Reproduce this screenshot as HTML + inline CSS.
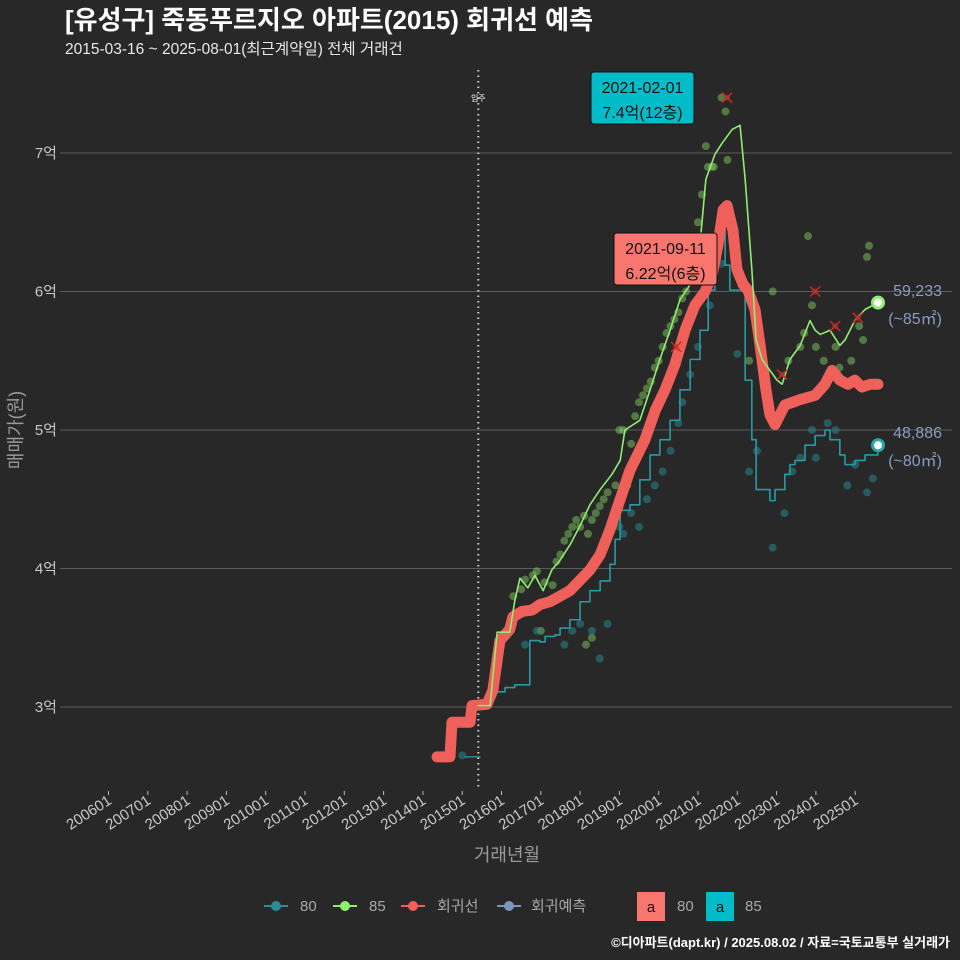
<!DOCTYPE html>
<html><head><meta charset="utf-8"><style>
body{margin:0;background:#282828;}
svg{display:block;font-family:"Liberation Sans","Noto Sans CJK KR",sans-serif;}
</style></head><body>
<svg id="chart" width="960" height="960" viewBox="0 0 960 960" xmlns="http://www.w3.org/2000/svg">
<rect x="0" y="0" width="960" height="960" fill="#282828"/>
<text x="65" y="29" font-size="26" font-weight="bold" fill="#ffffff">[유성구] 죽동푸르지오 아파트(2015) 회귀선 예측</text>
<text x="65" y="54" font-size="15.5" fill="#e8e8e8">2015-03-16 ~ 2025-08-01(최근계약일) 전체 거래건</text>
<g id="grid"></g>
<g id="marks"></g>
<text transform="translate(22,430) rotate(-90)" text-anchor="middle" font-size="18" fill="#9a9a9a">매매가(원)</text>
<text x="507" y="861" text-anchor="middle" font-size="18" fill="#9a9a9a">거래년월</text>
<g font-size="15" fill="#a8a8a8">
 <g><line x1="264" y1="906" x2="288" y2="906" stroke="#2a8c94" stroke-width="2"/><circle cx="276" cy="906" r="5" fill="#2a8c94"/><text x="300" y="911">80</text></g>
 <g><line x1="333" y1="906" x2="357" y2="906" stroke="#90ee70" stroke-width="2"/><circle cx="345" cy="906" r="5" fill="#90ee70"/><text x="369" y="911">85</text></g>
 <g><line x1="401" y1="906" x2="425" y2="906" stroke="#f0605a" stroke-width="2"/><circle cx="413" cy="906" r="5" fill="#f0605a"/><text x="437" y="911">회귀선</text></g>
 <g><line x1="497" y1="906" x2="521" y2="906" stroke="#7f95c0" stroke-width="2"/><circle cx="509" cy="906" r="5" fill="#7f95c0"/><text x="531" y="911">회귀예측</text></g>
 <g><rect x="637" y="892" width="28" height="29" fill="#f8766d"/><text x="651" y="912" text-anchor="middle" fill="#111">a</text><text x="677" y="911">80</text></g>
 <g><rect x="706" y="892" width="28" height="29" fill="#00bcc8"/><text x="720" y="912" text-anchor="middle" fill="#111">a</text><text x="745" y="911">85</text></g>
</g>
<text x="950" y="947" text-anchor="end" font-size="13" font-weight="bold" fill="#ffffff">©디아파트(dapt.kr) / 2025.08.02 / 자료=국토교통부 실거래가</text>
</svg>
<script>
const yTicks=[3,4,5,6,7];
const yTickLabels=["3억","4억","5억","6억","7억"];
const xTickYears=[2006,2007,2008,2009,2010,2011,2012,2013,2014,2015,2016,2017,2018,2019,2020,2021,2022,2023,2024,2025];
const xTickLabels=["200601","200701","200801","200901","201001","201101","201201","201301","201401","201501","201601","201701","201801","201901","202001","202101","202201","202301","202401","202501"];
const regT=[2014.36,2014.69,2014.74,2015.20,2015.25,2015.63,2015.78,2015.96,2016.21,2016.29,2016.52,2016.78,2016.98,2017.23,2017.49,2017.74,2018.25,2018.51,2018.76,2019.02,2019.27,2019.65,2019.91,2020.16,2020.41,2020.67,2020.92,2021.18,2021.36,2021.51,2021.64,2021.74,2021.89,2021.99,2022.15,2022.27,2022.45,2022.58,2022.73,2022.83,2022.96,2023.21,2023.60,2023.98,2024.23,2024.41,2024.61,2024.82,2024.99,2025.17,2025.38,2025.58];
const regV=[2.64,2.64,2.89,2.89,3.01,3.02,3.12,3.48,3.56,3.65,3.69,3.70,3.74,3.76,3.80,3.84,3.99,4.10,4.28,4.50,4.71,4.93,5.14,5.29,5.47,5.72,5.90,6.00,6.12,6.34,6.59,6.62,6.44,6.16,6.05,6.01,5.87,5.61,5.29,5.11,5.04,5.18,5.22,5.25,5.33,5.43,5.36,5.33,5.36,5.31,5.33,5.33];
const s85T=[2015.40,2015.71,2015.89,2016.21,2016.34,2016.47,2016.67,2016.85,2017.06,2017.28,2017.49,2017.74,2018.00,2018.25,2018.51,2018.81,2019.02,2019.14,2019.52,2019.78,2020.03,2020.29,2020.54,2020.80,2021.05,2021.20,2021.43,2021.61,2021.87,2022.07,2022.20,2022.37,2022.48,2022.63,2022.73,2023.01,2023.14,2023.34,2023.60,2023.85,2023.98,2024.11,2024.36,2024.61,2024.74,2024.99,2025.25,2025.58];
const s85V=[3.01,3.01,3.54,3.54,3.77,3.93,3.86,3.95,3.84,3.99,4.06,4.17,4.31,4.46,4.57,4.68,4.78,5.00,5.07,5.29,5.51,5.72,5.94,6.05,6.34,6.81,6.99,7.07,7.17,7.20,6.81,6.16,5.65,5.51,5.47,5.36,5.33,5.51,5.61,5.79,5.72,5.69,5.72,5.61,5.65,5.79,5.87,5.92];
const s80T=[2015.89,2016.09,2016.34,2016.60,2016.72,2016.98,2017.11,2017.36,2017.49,2017.74,2018.00,2018.25,2018.51,2018.76,2018.89,2019.02,2019.27,2019.52,2019.78,2020.03,2020.29,2020.54,2020.80,2021.05,2021.26,2021.43,2021.56,2021.69,2021.81,2022.07,2022.20,2022.37,2022.48,2022.70,2022.83,2022.96,2023.21,2023.34,2023.47,2023.72,2023.98,2024.23,2024.36,2024.61,2024.74,2024.99,2025.25,2025.58];
const s80V=[3.11,3.14,3.16,3.16,3.48,3.47,3.51,3.52,3.57,3.63,3.76,3.84,3.91,4.03,4.21,4.42,4.46,4.64,4.82,4.93,5.07,5.29,5.51,5.72,6.01,6.23,6.59,6.19,6.01,6.01,5.36,4.93,4.57,4.57,4.49,4.57,4.68,4.75,4.78,4.89,4.96,5.00,4.93,4.82,4.75,4.78,4.82,4.89];
const s80EarlyT=[2015.07,2015.45];
const s80EarlyV=[2.64,2.64];
const dots85T=[2016.3,2016.5,2016.6,2016.8,2016.9,2017.1,2017.3,2017.4,2017.5,2017.6,2017.7,2017.8,2017.9,2018.0,2018.1,2018.2,2018.3,2018.4,2018.5,2018.6,2018.7,2018.9,2019.0,2019.1,2019.3,2019.4,2019.5,2019.6,2019.7,2019.8,2019.9,2020.0,2020.1,2020.2,2020.3,2020.4,2020.5,2020.6,2020.7,2020.8,2020.9,2021.0,2021.1,2021.2,2021.25,2021.35,2021.4,2021.6,2021.7,2021.75,2022.3,2022.6,2022.9,2023.3,2023.6,2023.7,2023.8,2023.9,2024.0,2024.2,2024.5,2024.6,2025.1,2025.2,2025.3,2025.35,2024.9,2018.15,2018.3,2019.2,2017.0];
const dots85V=[3.80,3.85,3.92,3.95,3.98,3.90,3.88,4.05,4.10,4.20,4.25,4.30,4.35,4.30,4.38,4.25,4.35,4.40,4.45,4.50,4.55,4.60,5.00,5.00,4.90,5.10,5.20,5.25,5.30,5.35,5.45,5.50,5.60,5.70,5.75,5.80,5.85,5.95,6.00,6.20,6.30,6.50,6.70,7.05,6.90,6.90,6.90,7.40,7.30,6.95,5.50,5.65,6.00,5.50,5.60,5.70,6.40,5.90,5.60,5.50,5.60,5.45,5.75,5.65,6.25,6.33,5.50,3.45,3.50,4.60,3.55];
const dots80T=[2015.0,2016.6,2016.9,2017.6,2017.8,2018.0,2018.3,2018.5,2018.7,2019.0,2019.1,2019.3,2019.5,2019.7,2019.9,2020.1,2020.3,2020.5,2020.6,2020.8,2021.0,2021.3,2021.4,2021.6,2022.3,2022.9,2023.2,2023.4,2023.6,2023.9,2024.0,2024.3,2024.5,2024.8,2025.0,2025.3,2025.45,2022.0,2022.5];
const dots80V=[2.65,3.45,3.55,3.45,3.55,3.60,3.55,3.35,3.60,4.30,4.25,4.40,4.30,4.50,4.60,4.70,4.85,5.05,5.20,5.40,5.60,5.90,6.10,6.20,4.70,4.15,4.40,4.70,4.80,5.00,4.80,5.05,5.00,4.60,4.75,4.55,4.65,5.55,4.85];
const crossT=[2021.74,2020.44,2023.14,2023.98,2024.49,2025.07];
const crossV=[7.40,5.60,5.40,6.00,5.75,5.81];
const moveInYear=2015.41;

const NS="http://www.w3.org/2000/svg";
function X(t){return 108.5+(t-2006)*39.3;}
function Y(v){return 153+(7-v)*138.5;}
function mk(tag,attrs,parent){const e=document.createElementNS(NS,tag);for(const k in attrs)e.setAttribute(k,attrs[k]);parent.appendChild(e);return e;}
const grid=document.getElementById('grid'),marks=document.getElementById('marks');
yTicks.forEach((v,i)=>{
  const l=mk('line',{x1:60,x2:952,y1:Y(v),y2:Y(v),stroke:'#5c5c5c','stroke-width':1},grid);
  
  
  const t=mk('text',{x:57,y:Y(v)+5,'text-anchor':'end','font-size':15,fill:'#c8c8c8'},grid);
  t.textContent=yTickLabels[i];
  
  
});
xTickYears.forEach((yr,i)=>{
  const x=X(yr);
  const tk=mk('line',{x1:x,x2:x,y1:791,y2:795,stroke:'#bbb','stroke-width':1},grid);
  
  
  const t=mk('text',{x:x+4,y:803,'text-anchor':'end','font-size':15,fill:'#c8c8c8',transform:`rotate(-33 ${x+4} 803)`},grid);
  t.textContent=xTickLabels[i];
  
  
});
const mv=mk('line',{x1:X(moveInYear),x2:X(moveInYear),y1:70,y2:790,stroke:'#cfcfcf','stroke-width':2,'stroke-dasharray':'1.5 4'},grid);


const mvt=mk('text',{x:X(moveInYear),y:101,'text-anchor':'middle','font-size':8,fill:'#fff'},grid);
mvt.textContent='입주';



function dots(T,V,fill,name){T.forEach((t,i)=>{const c=mk('circle',{cx:X(t),cy:Y(V[i]),r:4,fill:fill,'fill-opacity':0.5},marks);
  
  });}
dots(dots85T,dots85V,'#7fc860','dot-85');
dots(dots80T,dots80V,'#2a8c94','dot-80');
function poly(T,V,col,w,name,step){let d='';T.forEach((t,i)=>{if(i===0)d+=`M${X(t)},${Y(V[i])}`;else if(step)d+=`H${X(t)}V${Y(V[i])}`;else d+=`L${X(t)},${Y(V[i])}`;});
  const p=mk('path',{d:d,fill:'none',stroke:col,'stroke-width':w,'stroke-linejoin':'round','stroke-linecap':'round'},marks);
  
  }
poly(s80EarlyT,s80EarlyV,'#2a8c94',1.5,'line-80-early',false);
poly(s80T,s80V,'#2a9aa2',1.6,'line-80',true);
poly(regT,regV,'#f0605a',11,'regression-line',false);
poly(s85T,s85V,'#90ee70',1.6,'line-85',false);
crossT.forEach((t,i)=>{const x=X(t),y=Y(crossV[i]);
  const g=mk('path',{d:`M${x-5},${y-5}L${x+5},${y+5}M${x-5},${y+5}L${x+5},${y-5}`,stroke:'#e0201a','stroke-width':1.5},marks);
  
  
  const c=mk('circle',{cx:x,cy:y,r:3,fill:'#a04030','fill-opacity':0.6},marks);
  
  });
const e85=mk('circle',{cx:X(2025.58),cy:Y(5.92),r:5.5,fill:'#fff',stroke:'#90ee70','stroke-width':3},marks);


const e80=mk('circle',{cx:X(2025.58),cy:Y(4.89),r:5.5,fill:'#fff',stroke:'#2aa8a8','stroke-width':3},marks);


[['59,233',296],['(~85㎡)',324],['48,886',438],['(~80㎡)',466]].forEach(a=>{
  const t=mk('text',{x:942,y:a[1],'text-anchor':'end','font-size':16,fill:'#8a9cc0'},marks);
  t.textContent=a[0];
  
  });
function box(x,y,w,h,fill,l1,l2,name){
  const g=mk('g',{},marks);
  
  
  mk('rect',{x:x,y:y,width:w,height:h,rx:3,fill:fill,stroke:'#111','stroke-width':1},g);
  const a=mk('text',{x:x+w/2,y:y+21,'text-anchor':'middle','font-size':16,fill:'#111'},g);a.textContent=l1;
  const b=mk('text',{x:x+w/2,y:y+46,'text-anchor':'middle','font-size':16,fill:'#111'},g);b.textContent=l2;}
box(591,72,103,52,'#00bcc8','2021-02-01','7.4억(12층)','max-annotation');
box(614,233,103,52,'#f8766d','2021-09-11','6.22억(6층)','latest-annotation');
</script>
</body></html>
